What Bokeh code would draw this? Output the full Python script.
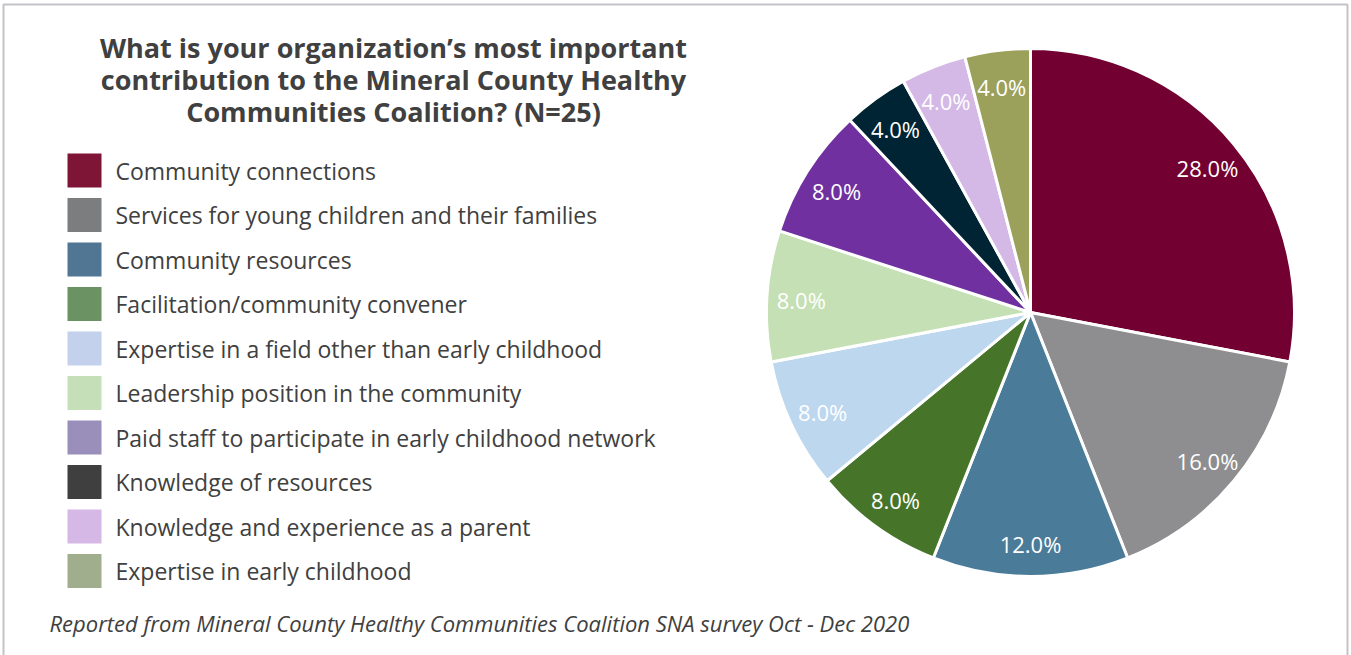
import math
from bokeh.plotting import figure
from bokeh.models import Range1d, ColumnDataSource
from bokeh.core.properties import value
from bokeh.embed import file_html
from bokeh.resources import INLINE

categories = [
    "Community connections",
    "Services for young children and their families",
    "Community resources",
    "Facilitation/community convener",
    "Expertise in a field other than early childhood",
    "Leadership position in the community",
    "Paid staff to participate in early childhood network",
    "Knowledge of resources",
    "Knowledge and experience as a parent",
    "Expertise in early childhood",
]
percents = [28.0, 16.0, 12.0, 8.0, 8.0, 8.0, 8.0, 4.0, 4.0, 4.0]
pie_colors = ["#720030", "#8E8E90", "#4A7B99", "#46752A", "#BDD7EE",
              "#C5E0B4", "#7030A0", "#002433", "#D4B8E6", "#9BA05A"]
legend_colors = ["#7E1537", "#7B7D7E", "#517693", "#6B9262", "#C3D1EC",
                 "#C5E0B8", "#9A8FBA", "#3F3F3F", "#D5B8E6", "#A0AE8D"]
title_lines = [
    "What is your organization\u2019s most important",
    "contribution to the Mineral County Healthy",
    "Communities Coalition? (N=25)",
]
footnote = "Reported from Mineral County Healthy Communities Coalition SNA survey Oct - Dec 2020"

W, H = 1351, 655
def Y(sy):
    return H - sy

p = figure(width=W, height=H, output_backend="svg", toolbar_location=None,
           x_range=Range1d(0, W), y_range=Range1d(0, H), min_border=0)
p.axis.visible = False
p.grid.visible = False
p.outline_line_color = None
p.background_fill_color = "white"
p.border_fill_color = "white"

# frame
p.quad(left=3, right=1347, top=Y(4), bottom=-20, fill_color=None,
       line_color="#C3C3C8", line_width=2)

# pie
cx, cy, R = 1030, Y(312), 264
total = sum(percents)
starts, ends, lx, ly, labels = [], [], [], [], []
cum = 0.0
for v in percents:
    a0 = math.pi / 2 - 2 * math.pi * cum / total
    cum += v
    a1 = math.pi / 2 - 2 * math.pi * cum / total
    starts.append(a0)
    ends.append(a1)
    mid = (a0 + a1) / 2
    lx.append(cx + 0.87 * R * math.cos(mid))
    ly.append(cy + 0.87 * R * math.sin(mid) - 2)
    labels.append(f"{v:.1f}%")

src = ColumnDataSource(dict(start=starts, end=ends, color=pie_colors,
                            lx=lx, ly=ly, label=labels))
p.wedge(x=cx, y=cy, radius=R, start_angle="start", end_angle="end",
        direction="clock", fill_color="color", line_color="white",
        line_width=3, source=src)
p.text(x="lx", y="ly", text="label", source=src, text_color="white",
       text_font=value("Open Sans"), text_font_size="22px",
       text_align="center", text_baseline="middle")

# title
p.text(x=[393] * 3, y=[Y(47), Y(79), Y(111)], text=title_lines,
       text_font=value("Open Sans"), text_font_style="bold", text_font_size="27px",
       text_color="#404040", text_align="center", text_baseline="middle")

# legend
rows = [Y(170 + 44.5 * i) for i in range(len(categories))]
lsrc = ColumnDataSource(dict(y=rows, color=legend_colors, name=categories))
p.rect(x=84, y="y", width=34, height=34, fill_color="color", line_color=None,
       source=lsrc)
p.text(x=115, y="y", text="name", source=lsrc, text_font=value("Open Sans"),
       text_font_size="23px", text_color="#404040", text_baseline="middle")

# footnote
p.text(x=[49], y=[Y(622)], text=[footnote], text_font=value("Open Sans"),
       text_font_style="italic", text_font_size="22px", text_color="#404040",
       text_baseline="middle")

open("out.html", "w").write(file_html(p, INLINE))
